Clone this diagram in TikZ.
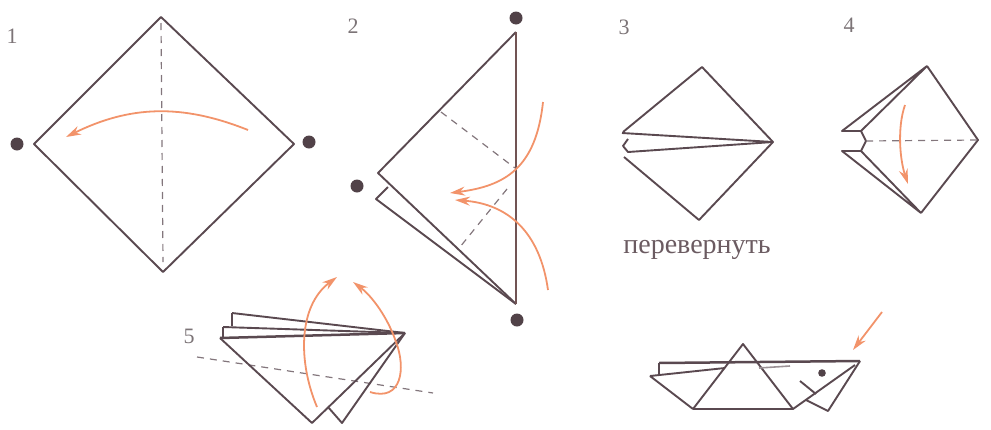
\documentclass[tikz,border=0pt]{standalone}
\usepackage{fontspec}
\setmainfont{Liberation Serif}
\usepackage{tikz}
\usetikzlibrary{arrows.meta}
\definecolor{fold}{HTML}{5A4950}
\definecolor{turn}{HTML}{F2936A}
\definecolor{numgray}{HTML}{7C7477}

\begin{document}
\begin{tikzpicture}[x=1pt, y=-1pt,
  edge/.style={draw=fold, line width=1.9pt, line join=round},
  crease/.style={draw=fold!75, line width=1.2pt, dash pattern=on 7pt off 6pt},
  move/.style={draw=turn, line width=1.8pt, -{Stealth[length=15pt,width=9pt]}},
  spot/.style={fill=fold!90!black},
  num/.style={text=numgray, font=\fontsize{22}{22}\selectfont}]
  \useasboundingbox (0,0) rectangle (991,429);

  % step 1
  \node[num] (n1) at (12,36) {1};
  \coordinate (a-t) at (161,17);  \coordinate (a-l) at (34,144);
  \coordinate (a-b) at (163,272); \coordinate (a-r) at (294,144);
  \path[edge] (a-t) -- (a-r) -- (a-b) -- (a-l) -- cycle;
  \path[crease] (161,23) -- (163,262);
  \fill[spot] (17,144) circle (6.5pt) (309,142) circle (6.5pt);
  \path[move] (248,130) to[bend right=24] (66,137);

  % step 2
  \node[num] (n2) at (353,26) {2};
  \coordinate (b-t) at (516,32); \coordinate (b-l) at (378,173);
  \coordinate (b-b) at (516,304);
  \path[edge] (b-b) -- (b-l) -- (b-t);
  \path[edge] (388,187) -- (376,199) -- (b-b);
  \path[draw=fold!85!turn, line width=2.4pt] (b-t) -- (b-b);
  \path[crease] (441,112) -- (515,168) (507,189) -- (460,247);
  \fill[spot] (516,18) circle (6.5pt) (357,186) circle (6.5pt) (517,320) circle (6.5pt);
  \path[move] (543,102) .. controls (536,168) and (505,186) .. (450,193);
  \path[move] (548,290) .. controls (540,232) and (508,204) .. (455,200);

  % step 3
  \node[num] (n3) at (624,27) {3};
  \coordinate (c-t) at (702,67); \coordinate (c-r) at (773,142);
  \coordinate (c-b) at (699,220);
  \path[edge] (623,132) -- (c-t) -- (c-r) -- (c-b) -- (624,157);
  \path[edge] (622,133) -- (c-r) -- (628,152) -- (623,146) -- (628,139);
  \node[text=fold!90, font=\fontsize{28}{30}\selectfont, anchor=base] (flip) at (697,253) {перевернуть};

  % step 4
  \node[num] (n4) at (849,25) {4};
  \coordinate (d-t) at (927,66); \coordinate (d-r) at (978,140);
  \coordinate (d-b) at (921,213);
  \path[edge] (d-t) -- (d-r) -- (d-b);
  \path[edge] (d-t) -- (842,131) -- (861,131) -- (d-t);
  \path[edge] (d-b) -- (842,151) -- (861,151) -- (d-b);
  \path[edge] (861,131) -- (866,141) -- (861,151);
  \path[crease] (866,141) -- (d-r);
  \path[move] (905,105) .. controls (897,128) and (900,160) .. (908,184);

  % step 5
  \node[num] (n5) at (189,336) {5};
  \coordinate (e-r) at (405,333); \coordinate (e-l) at (220,338);
  \coordinate (e-b) at (312,423);
  \path[crease] (197,357) -- (433,393);
  \path[edge] (e-r) -- (342,423) -- (328,407);
  \path[edge] (e-l) -- (e-b) -- (e-r);
  \path[edge] (232,313) -- (e-r) (232,313) -- (232,326);
  \path[edge] (223,327) -- (e-r) (223,327) -- (223,338);
  \path[draw=fold, line width=2.5pt] (e-l) -- (e-r);
  \path[move] (317,407) .. controls (298,362) and (298,306) .. (337,277);
  \path[move] (370,392) .. controls (402,402) and (406,368) .. (396,342)
                        .. controls (388,318) and (372,296) .. (353,282);

  % finished fish
  \coordinate (f-t) at (743,344); \coordinate (f-l) at (693,409);
  \coordinate (f-r) at (793,409); \coordinate (f-n) at (860,361);
  \path[edge] (f-l) -- (f-t) -- (f-r) -- (f-l);
  \path[edge] (650,376) -- (f-l) (650,376) -- (725,368);
  \path[edge] (659,363) -- (659,374);
  \path[draw=fold!60, line width=1.6pt] (759,368) -- (790,366);
  \path[draw=fold, line width=2.5pt] (659,363) -- (f-n);
  \path[edge] (f-r) -- (855,365);
  \path[edge] (800,381) -- (816,394);
  \path[edge] (806,400) -- (828,411) -- (f-n);
  \fill[spot] (822,373) circle (3.8pt);
  \coordinate (f-a) at (882,312);
  \path[move] (f-a) -- (853,350);
\end{tikzpicture}
\end{document}
